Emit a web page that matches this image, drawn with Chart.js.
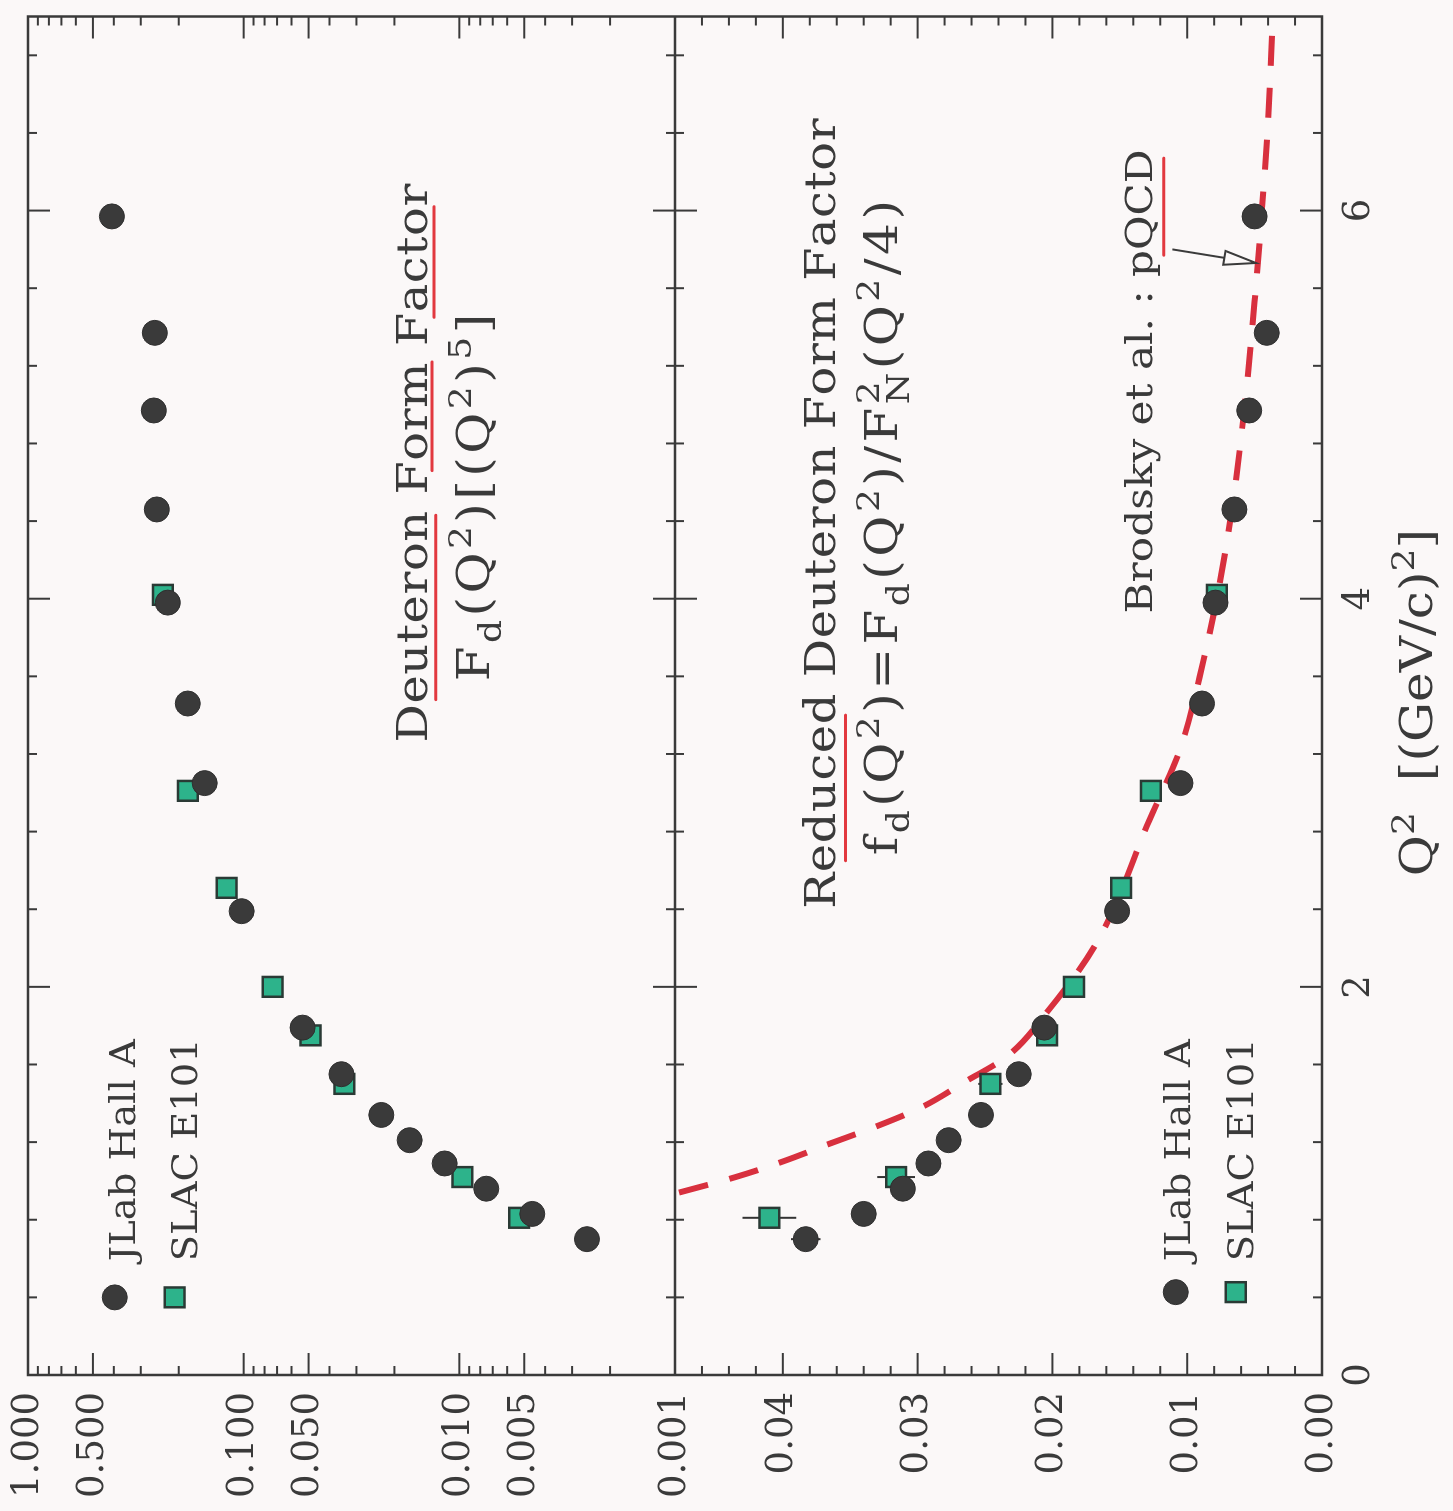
<!DOCTYPE html>
<html>
<head>
<meta charset="utf-8">
<script src="https://cdn.jsdelivr.net/npm/chart.js@4.4.1/dist/chart.umd.min.js"></script>
<style>
  html, body { margin: 0; padding: 0; background: #fbf8f8; overflow: hidden; }
  #page { position: relative; width: 1453px; height: 1511px; overflow: hidden; }
  /* the plot is drawn upright, then turned a quarter turn counter-clockwise like the scan */
  #plot { position: absolute; left: 0; top: 0; width: 1511px; height: 1453px;
          transform-origin: 0 0; transform: translateY(1511px) rotate(-90deg); }
</style>
</head>
<body>
<div id="page"><div id="plot"><canvas id="c" width="1511" height="1453"></canvas></div></div>
<script>
// ---- data ----
const jlabQ2 = [0.70, 0.83, 0.96, 1.09, 1.21, 1.34, 1.55, 1.79, 2.39, 3.05, 3.46, 3.98, 4.46, 4.97, 5.37, 5.97];
const jlabF = [0.00256, 0.00459, 0.0075, 0.0117, 0.0170, 0.0230, 0.0352, 0.0533, 0.1022, 0.1516, 0.1816, 0.2248, 0.2528, 0.2610, 0.2582, 0.4084];
const jlabFErr = [0.00008, 0.0001, 0.00015, 0.0002, 0.0003, 0.0004, 0.0006, 0.0009, 0.002, 0.003, 0.004, 0.005, 0.007, 0.009, 0.012, 0.04];
const jlabRed = [0.0383, 0.0340, 0.0311, 0.0292, 0.0277, 0.0253, 0.0225, 0.0206, 0.0152, 0.0105, 0.0089, 0.0079, 0.0065, 0.0054, 0.0041, 0.0050];
const jlabRedErr = [0.0011, 0.0009, 0.0007, 0.0006, 0.0005, 0.0005, 0.0005, 0.0005, 0.0004, 0.0004, 0.0003, 0.0003, 0.0003, 0.0003, 0.0003, 0.0004];

const slacQ2 = [0.81, 1.02, 1.50, 1.75, 2.00, 2.51, 3.01, 4.02];
const slacF = [0.00528, 0.00968, 0.0341, 0.0490, 0.0734, 0.1199, 0.1816, 0.2371];
const slacFErr = [0.0003, 0.0006, 0.0015, 0.002, 0.003, 0.005, 0.009, 0.015];
const slacRed = [0.0410, 0.0316, 0.0246, 0.0204, 0.0184, 0.0149, 0.0127, 0.0078];
const slacRedErr = [0.0020, 0.0014, 0.0009, 0.0005, 0.0004, 0.0004, 0.0005, 0.0005];

const pqcdQ2 = [0.94, 1.02, 1.10, 1.19, 1.28, 1.38, 1.51, 1.64, 1.87, 2.23, 2.86, 3.22, 3.68, 4.04, 4.50, 5.02, 5.53, 6.00, 6.46, 7.00];
const pqcdRed = [0.0477, 0.0435, 0.0400, 0.0366, 0.0331, 0.0297, 0.0265, 0.0234, 0.0204, 0.0167, 0.0128, 0.01055, 0.0088, 0.0077, 0.0066, 0.0057, 0.0050, 0.00446, 0.0040, 0.00364];

const q2Ticks = [0, 2, 4, 6];
const logTicks = [1, 0.5, 0.1, 0.05, 0.01, 0.005, 0.001];
const linTicks = [0, 0.01, 0.02, 0.03, 0.04];

// ---- look ----
const ink = '#3a3a3a';
const paper = '#fbf8f8';
const red = '#e2383f';
const serif = '"DejaVu Serif", "Liberation Serif", serif';
Chart.defaults.font.family = serif;
Chart.defaults.color = ink;

const xy = (xs, ys) => xs.map((x, i) => ({x, y: ys[i]}));

const jlabLook = {pointStyle: 'circle', pointRadius: 12.5, pointBackgroundColor: '#3a3a3a', pointBorderColor: '#2f2f2f', pointBorderWidth: 1, showLine: false};
const slacLook = {pointStyle: 'rect', pointRadius: 14, pointBackgroundColor: '#2db38b', pointBorderColor: '#2a3a35', pointBorderWidth: 2.5, showLine: false};

// text placed in data coordinates (Q2, value on the panel's axis)
const notes = [
  {text: ['Deuteron Form Factor'], q2: 4.70, v: 0.0141, axis: 'yLog', size: 42, sx: 1.14, ls: 0.5},
  {text: ['F', {sub: 'd'}, '(Q', {sup: '2'}, ')[(Q', {sup: '2'}, ')', {sup: '5'}, ']'], q2: 4.53, v: 0.00726, axis: 'yLog', size: 44, sx: 1.14, ls: 3},
  {text: ['Reduced Deuteron Form Factor'], q2: 4.44, v: 0.0361, axis: 'yLin', size: 42, sx: 1.14, ls: 0.5},
  {text: ['f', {sub: 'd'}, '(Q', {sup: '2'}, ')=F', {sub: 'd'}, '(Q', {sup: '2'}, ')/F', {sub: 'N', sup: '2'}, '(Q', {sup: '2'}, '/4)'], q2: 4.375, v: 0.0315, axis: 'yLin', size: 44, sx: 1.14, ls: 3},
  {text: ['Brodsky et al. : pQCD'], q2: 5.12, v: 0.01263, axis: 'yLin', size: 37, sx: 1.14, ls: 0}
];
const legends = [
  {axis: 'yLog', q2: 0.40, textQ2: 0.586, rows: [
    {label: 'JLab Hall A', look: jlabLook, v: 0.396, base: 0.3195},
    {label: 'SLAC E101', look: slacLook, v: 0.209, base: 0.165}]},
  {axis: 'yLin', q2: 0.427, textQ2: 0.586, rows: [
    {label: 'JLab Hall A', look: jlabLook, v: 0.01085, base: 0.0098},
    {label: 'SLAC E101', look: slacLook, v: 0.0064, base: 0.00513}]}
];
// red pen underlines on the scan
const penMarks = [
  {from: 3.48, to: 4.43, v: 0.01287, axis: 'yLog'},
  {from: 4.66, to: 5.22, v: 0.0134, axis: 'yLog'},
  {from: 5.45, to: 6.02, v: 0.0131, axis: 'yLog'},
  {from: 2.65, to: 3.40, v: 0.03536, axis: 'yLin'},
  {from: 5.77, to: 6.27, v: 0.01174, axis: 'yLin'}
];
const arrow = {from: [5.80, 0.0111], to: [5.73, 0.0049], axis: 'yLin'};

function seg(ctx, x1, y1, x2, y2) {
  ctx.beginPath(); ctx.moveTo(x1, y1); ctx.lineTo(x2, y2); ctx.stroke();
}

// small rich-text drawer: strings, {sub}, {sup}, or both stacked
function drawRich(ctx, parts, x, y, o) {
  const big = `${o.size}px ${serif}`, small = `${o.size * 0.72}px ${serif}`;
  const items = [];
  let w = 0;
  const put = (t, font, dy) => {
    let adv = 0;
    ctx.font = font;
    for (const ch of t) {
      items.push({ch, font, x: w + adv, dy});
      adv += ctx.measureText(ch).width + o.ls;
    }
    return adv;
  };
  for (const p of parts) {
    if (typeof p === 'string') { w += put(p, big, 0); continue; }
    let adv = 0;
    if (p.sub) adv = Math.max(adv, put(p.sub, small, o.size * 0.26));
    if (p.sup) adv = Math.max(adv, put(p.sup, small, -o.size * 0.42));
    w += adv;
  }
  const start = o.align === 'left' ? 0 : -w / 2;
  ctx.save();
  ctx.translate(x, y);
  ctx.scale(o.sx, 1);
  ctx.fillStyle = ink;
  ctx.textBaseline = 'alphabetic';
  ctx.textAlign = 'left';
  for (const it of items) { ctx.font = it.font; ctx.fillText(it.ch, start + it.x, it.dy); }
  ctx.restore();
}

function drawMarker(ctx, look, x, y) {
  ctx.save();
  ctx.fillStyle = look.pointBackgroundColor;
  ctx.strokeStyle = look.pointBorderColor;
  ctx.lineWidth = look.pointBorderWidth;
  ctx.beginPath();
  if (look.pointStyle === 'rect') {
    const h = look.pointRadius * Math.SQRT1_2;
    ctx.rect(x - h, y - h, 2 * h, 2 * h);
  } else {
    ctx.arc(x, y, look.pointRadius, 0, Math.PI * 2);
  }
  ctx.fill(); ctx.stroke();
  ctx.restore();
}

const errorBars = {
  id: 'errorBars',
  beforeDatasetsDraw(chart) {
    const {ctx, chartArea: a} = chart;
    ctx.save();
    ctx.beginPath(); ctx.rect(a.left, a.top, a.right - a.left, a.bottom - a.top); ctx.clip();
    ctx.strokeStyle = '#333'; ctx.lineWidth = 2;
    chart.data.datasets.forEach((ds, i) => {
      if (!ds.errors) return;
      const ys = chart.scales[ds.yAxisID];
      chart.getDatasetMeta(i).data.forEach((pt, j) => {
        const v = ds.data[j].y, e = ds.errors[j];
        seg(ctx, pt.x, ys.getPixelForValue(v - e), pt.x, ys.getPixelForValue(v + e));
      });
    });
    ctx.restore();
  }
};

const frame = {
  id: 'frame',
  afterDraw(chart) {
    const {ctx, chartArea: a, scales} = chart;
    const {x, yLog, yLin} = scales;
    const mid = yLin.top;
    const major = 22, minor = 9;
    ctx.save();
    ctx.strokeStyle = ink;
    ctx.lineWidth = 2.5;
    ctx.strokeRect(a.left, a.top, a.right - a.left, a.bottom - a.top);
    seg(ctx, a.left, mid, a.right, mid);
    ctx.lineWidth = 2;
    for (let k = 1; k <= 17; k++) {
      const px = x.getPixelForValue(k * 0.4), L = k % 5 === 0 ? major : minor;
      seg(ctx, px, a.top, px, a.top + L);
      seg(ctx, px, a.bottom, px, a.bottom - L);
      seg(ctx, px, mid - L, px, mid + L);
    }
    const side = (scale, v, L) => {
      const py = scale.getPixelForValue(v);
      seg(ctx, a.left, py, a.left + L, py);
      seg(ctx, a.right, py, a.right - L, py);
    };
    for (let e = -3; e <= -1; e++) {
      for (let m = 1; m <= 9; m++) {
        if (e === -3 && m === 1) continue;
        side(yLog, m * Math.pow(10, e), (m === 1 || m === 5) ? major : minor);
      }
    }
    for (let k = 1; k <= 23; k++) side(yLin, k * 0.002, k % 5 === 0 ? major : minor);
    ctx.restore();
  }
};

const labels = {
  id: 'labels',
  afterDraw(chart) {
    const {ctx, chartArea: a, scales} = chart;
    const px = q => scales.x.getPixelForValue(q);
    notes.forEach(n => drawRich(ctx, n.text, px(n.q2), scales[n.axis].getPixelForValue(n.v), {size: n.size, sx: n.sx, ls: n.ls, align: 'center'}));
    legends.forEach(lg => {
      const ys = scales[lg.axis];
      lg.rows.forEach(r => {
        drawMarker(ctx, r.look, px(lg.q2), ys.getPixelForValue(r.v));
        drawRich(ctx, [r.label], px(lg.textQ2), ys.getPixelForValue(r.base), {size: 35, sx: 1.1, ls: 0, align: 'left'});
      });
    });
    // axis title
    const base = a.bottom + 110;
    drawRich(ctx, ['Q', {sup: '2'}], px(2.57), base, {size: 44, sx: 1.14, ls: 0, align: 'left'});
    drawRich(ctx, ['[(GeV/c)', {sup: '2'}, ']'], px(3.06), base, {size: 44, sx: 1.14, ls: 0, align: 'left'});
    // pen marks
    ctx.save();
    ctx.strokeStyle = red; ctx.lineWidth = 3; ctx.lineCap = 'round';
    penMarks.forEach(m => {
      const py = scales[m.axis].getPixelForValue(m.v);
      seg(ctx, px(m.from), py, px(m.to), py);
    });
    ctx.restore();
    // arrow to the pQCD curve
    const ys = scales[arrow.axis];
    const x1 = px(arrow.from[0]), y1 = ys.getPixelForValue(arrow.from[1]);
    const x2 = px(arrow.to[0]), y2 = ys.getPixelForValue(arrow.to[1]);
    const ang = Math.atan2(y2 - y1, x2 - x1), hl = 32, hw = 7;
    const bx = x2 - hl * Math.cos(ang), by = y2 - hl * Math.sin(ang);
    ctx.save();
    ctx.strokeStyle = ink; ctx.lineWidth = 2;
    seg(ctx, x1, y1, bx, by);
    ctx.beginPath();
    ctx.moveTo(x2, y2);
    ctx.lineTo(bx - hw * Math.sin(ang), by + hw * Math.cos(ang));
    ctx.lineTo(bx + hw * Math.sin(ang), by - hw * Math.cos(ang));
    ctx.closePath();
    ctx.fillStyle = paper; ctx.fill(); ctx.stroke();
    ctx.restore();
  }
};

const tickFont = {family: serif, size: 37};
const fixTicks = values => scale => { scale.ticks = values.map(v => ({value: v})); };
// fixed axis sizes; label overhang must not push the plot area around
const fitY = s => { s.width = 136; s.paddingTop = 0; s.paddingBottom = 0; };
const fitX = s => { s.height = 131; s.paddingLeft = 0; s.paddingRight = 0; };

new Chart(document.getElementById('c'), {
  type: 'scatter',
  data: {
    datasets: [
      {label: 'JLab Hall A', data: xy(jlabQ2, jlabF), errors: jlabFErr, yAxisID: 'yLog', ...jlabLook},
      {label: 'JLab Hall A', data: xy(jlabQ2, jlabRed), errors: jlabRedErr, yAxisID: 'yLin', ...jlabLook},
      {label: 'SLAC E101', data: xy(slacQ2, slacF), errors: slacFErr, yAxisID: 'yLog', ...slacLook},
      {label: 'SLAC E101', data: xy(slacQ2, slacRed), errors: slacRedErr, yAxisID: 'yLin', ...slacLook},
      {label: 'Brodsky et al. : pQCD', data: xy(pqcdQ2, pqcdRed), yAxisID: 'yLin', showLine: true,
       pointRadius: 0, borderColor: '#d8303e', borderWidth: 6, borderDash: [30, 22],
       cubicInterpolationMode: 'monotone', fill: false}
    ]
  },
  options: {
    responsive: false,
    animation: false,
    devicePixelRatio: 1,
    events: [],
    layout: {padding: {top: 28, right: 14, left: 0, bottom: 0}},
    plugins: {legend: {display: false}, tooltip: {enabled: false}},
    scales: {
      x: {
        type: 'linear', position: 'bottom', min: 0, max: 7,
        afterBuildTicks: fixTicks(q2Ticks),
        afterFit: fitX,
        grid: {display: false, drawTicks: false}, border: {display: false},
        ticks: {font: tickFont, color: ink, padding: 15, maxRotation: 0, autoSkip: false}
      },
      yLog: {
        type: 'logarithmic', position: 'left', stack: 'panels', stackWeight: 1, weight: 2,
        min: 0.001, max: 1,
        afterBuildTicks: fixTicks(logTicks),
        afterFit: fitY,
        grid: {display: false, drawTicks: false}, border: {display: false},
        ticks: {font: tickFont, color: ink, padding: 17, autoSkip: false, callback: v => Number(v).toFixed(3)}
      },
      yLin: {
        type: 'linear', position: 'left', stack: 'panels', stackWeight: 1, weight: 1,
        min: 0, max: 0.048,
        afterBuildTicks: fixTicks(linTicks),
        afterFit: fitY,
        grid: {display: false, drawTicks: false}, border: {display: false},
        ticks: {font: tickFont, color: ink, padding: 17, autoSkip: false, callback: v => Number(v).toFixed(2)}
      }
    }
  },
  plugins: [errorBars, frame, labels]
});
</script>
</body>
</html>
